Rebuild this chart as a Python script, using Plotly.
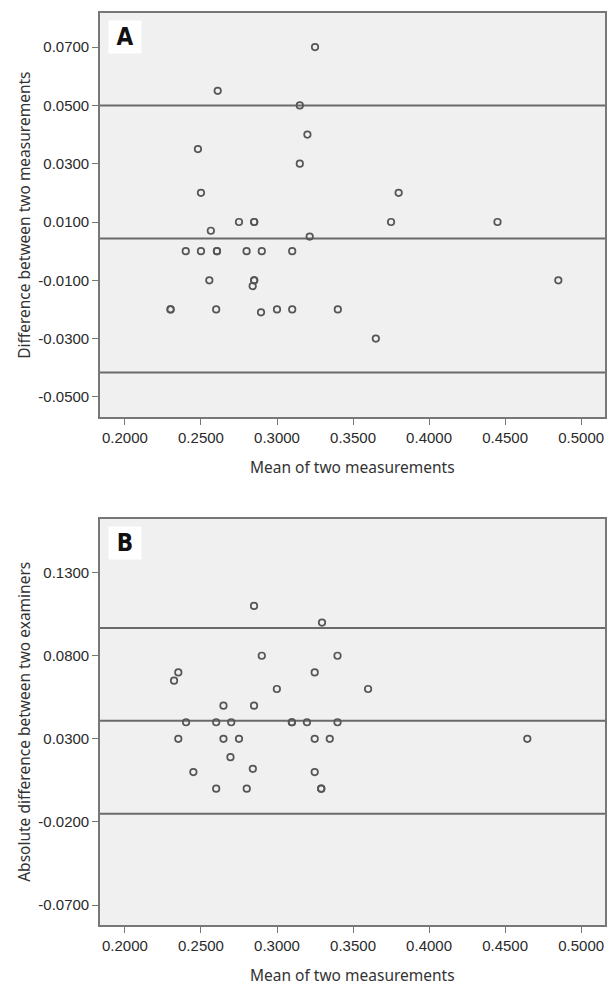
import plotly.graph_objects as go

# ---------------- data ----------------
a_mean = [0.325, 0.261, 0.315, 0.320, 0.248, 0.315, 0.250, 0.380, 0.275, 0.285, 0.285,
          0.375, 0.445, 0.2565, 0.3215, 0.240, 0.250, 0.2605, 0.2605, 0.280, 0.290, 0.310,
          0.2555, 0.285, 0.285, 0.284, 0.485, 0.230, 0.230, 0.260, 0.2895, 0.300, 0.310,
          0.340, 0.365]
a_diff = [0.070, 0.055, 0.050, 0.040, 0.035, 0.030, 0.020, 0.020, 0.010, 0.010, 0.010,
          0.010, 0.010, 0.007, 0.005, 0.000, 0.000, 0.000, 0.000, 0.000, 0.000, 0.000,
          -0.010, -0.010, -0.010, -0.012, -0.010, -0.020, -0.020, -0.020, -0.021, -0.020, -0.020,
          -0.020, -0.030]
a_lines = [0.0500, 0.0043, -0.0416]

b_mean = [0.2849, 0.3296, 0.2900, 0.3398, 0.2351, 0.3248, 0.2323, 0.2999, 0.3599, 0.2648,
          0.2849, 0.2402, 0.2600, 0.2699, 0.3098, 0.3098, 0.3197, 0.3398, 0.2351, 0.2648,
          0.2750, 0.3248, 0.3347, 0.4646, 0.2694, 0.2450, 0.2841, 0.3248, 0.2600, 0.2801,
          0.3291, 0.3291]
b_diff = [0.110, 0.100, 0.080, 0.080, 0.070, 0.070, 0.065, 0.060, 0.060, 0.050,
          0.050, 0.040, 0.040, 0.040, 0.040, 0.040, 0.040, 0.040, 0.030, 0.030,
          0.030, 0.030, 0.030, 0.030, 0.019, 0.010, 0.012, 0.010, 0.000, 0.000,
          0.000, 0.000]
b_lines = [0.0967, 0.0409, -0.0150]

x_ticks = [0.20, 0.25, 0.30, 0.35, 0.40, 0.45, 0.50]
x_ticktext = ["0.2000", "0.2500", "0.3000", "0.3500", "0.4000", "0.4500", "0.5000"]
a_yticks = [0.07, 0.05, 0.03, 0.01, -0.01, -0.03, -0.05]
a_yticktext = ["0.0700", "0.0500", "0.0300", "0.0100", "-0.0100", "-0.0300", "-0.0500"]
b_yticks = [0.13, 0.08, 0.03, -0.02, -0.07]
b_yticktext = ["0.1300", "0.0800", "0.0300", "-0.0200", "-0.0700"]

x_title = "Mean of two measurements"
a_ytitle = "Difference between two measurements"
b_ytitle = "Absolute difference between two examiners"

# ---------------- figure ----------------
W, H = 608, 987
L, R, T, B = 100, 1, 13, 62
plot_h = H - T - B
a_top, a_bot = 13, 417
b_top, b_bot = 519, 925
def dom(top, bot):
    return [(H - B - bot) / plot_h, (H - B - top) / plot_h]

fig = go.Figure()
marker = dict(symbol="circle-open", size=6.5, color="#555555", line=dict(width=1.7, color="#505050"))
fig.add_trace(go.Scatter(x=a_mean, y=a_diff, mode="markers", marker=marker,
                         xaxis="x", yaxis="y", showlegend=False))
fig.add_trace(go.Scatter(x=b_mean, y=b_diff, mode="markers", marker=marker,
                         xaxis="x2", yaxis="y2", showlegend=False))

for v in a_lines:
    fig.add_shape(type="line", xref="x domain", yref="y", x0=0, x1=1, y0=v, y1=v,
                  line=dict(color="#6a6a6a", width=2), layer="below")
for v in b_lines:
    fig.add_shape(type="line", xref="x2 domain", yref="y2", x0=0, x1=1, y0=v, y1=v,
                  line=dict(color="#6a6a6a", width=2), layer="below")

tickfont = dict(family="Liberation Sans, Arial, sans-serif", size=15, color="#2a2a2a")
axis_common = dict(showgrid=False, zeroline=False, showline=True, linecolor="#777777",
                   linewidth=1.6, mirror=True, ticks="outside", ticklen=6, tickwidth=1.3,
                   tickcolor="#777777", tickfont=tickfont)

x_range = [0.1836, 0.5157]
fig.update_layout(
    width=W, height=H,
    margin=dict(l=L, r=R, t=T, b=B, pad=0),
    paper_bgcolor="white", plot_bgcolor="#f0f0f0",
    xaxis=dict(domain=[0, 1], range=x_range, anchor="y", tickvals=x_ticks,
               ticktext=x_ticktext, **axis_common),
    yaxis=dict(domain=dom(a_top, a_bot), range=[-0.0569, 0.0817], anchor="x",
               tickvals=a_yticks, ticktext=a_yticktext, **axis_common),
    xaxis2=dict(domain=[0, 1], range=x_range, anchor="y2", tickvals=x_ticks,
                ticktext=x_ticktext, **axis_common),
    yaxis2=dict(domain=dom(b_top, b_bot), range=[-0.0820, 0.1623], anchor="x2",
                tickvals=b_yticks, ticktext=b_yticktext, **axis_common),
)

title_font = dict(family="Noto Sans, Open Sans, sans-serif", size=15.5, color="#333333")
ann = []
# x titles
ann.append(dict(text=x_title, xref="x domain", yref="paper", x=0.5,
                y=(H - B - 467) / plot_h, yanchor="middle", showarrow=False, font=title_font))
ann.append(dict(text=x_title, xref="x2 domain", yref="paper", x=0.5,
                y=(H - B - 975) / plot_h, yanchor="middle", showarrow=False, font=title_font))
# y titles
ann.append(dict(text=a_ytitle, xref="paper", yref="y domain", x=(23.5 - L) / (W - L - R),
                y=0.5, xanchor="center", yanchor="middle", textangle=-90, showarrow=False,
                font=title_font))
ann.append(dict(text=b_ytitle, xref="paper", yref="y2 domain", x=(23.5 - L) / (W - L - R),
                y=0.5, xanchor="center", yanchor="middle", textangle=-90, showarrow=False,
                font=title_font))
# panel letters
for letter, xr, yr in [("A", "x domain", "y domain"), ("B", "x2 domain", "y2 domain")]:
    ann.append(dict(text="<b>" + letter + "</b>", xref=xr, yref=yr,
                    x=8 / (W - L - R), y=1 - 7 / 404, xanchor="left", yanchor="top",
                    showarrow=False, bgcolor="white", width=30, height=30,
                    font=dict(family="DejaVu Sans Condensed, Liberation Sans Narrow, sans-serif",
                              size=24, color="#111111")))
fig.update_layout(annotations=ann)

fig.write_html("out.html", config={"displayModeBar": False},
               post_script="document.body.style.margin='0';document.body.style.overflow='hidden';")
